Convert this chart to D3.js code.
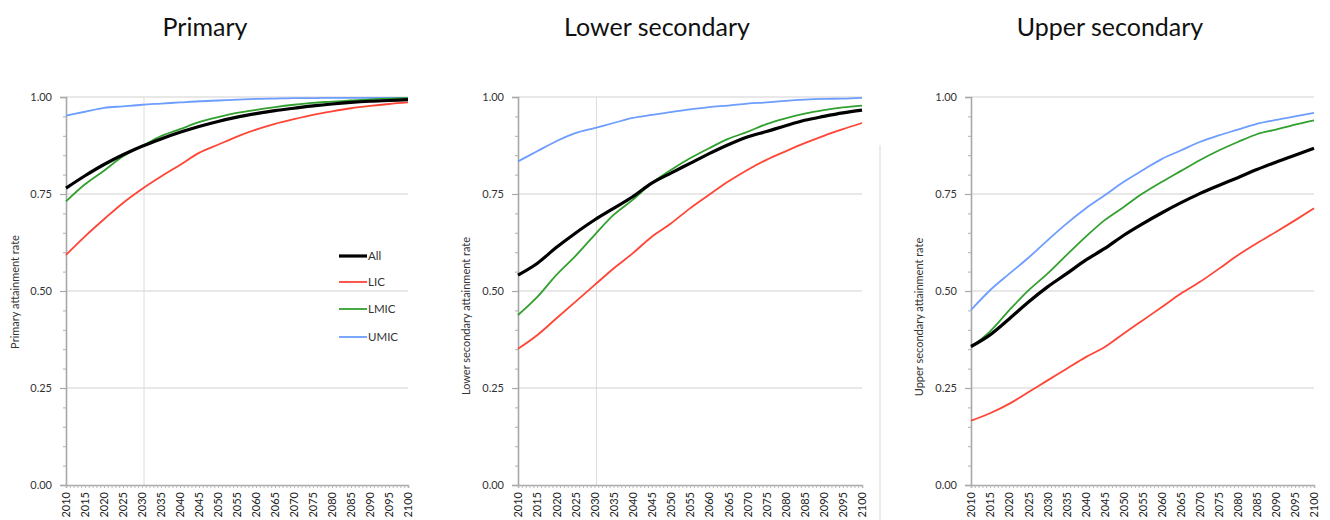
<!DOCTYPE html>
<html>
<head>
<meta charset="utf-8">
<script src="https://cdn.jsdelivr.net/npm/d3@7"></script>
<style>
  html, body { margin: 0; padding: 0; background: #fff; }
  svg { display: block; }
</style>
</head>
<body>
<svg id="chart" width="1330" height="520"></svg>
<script>
// ---------------- DATA ----------------
const years = [2010, 2015, 2020, 2025, 2030, 2035, 2040, 2045, 2050, 2055, 2060, 2065, 2070, 2075, 2080, 2085, 2090, 2095, 2100];
const seriesNames = ["All", "LIC", "LMIC", "UMIC"];
const panelTitles = ["Primary", "Lower secondary", "Upper secondary"];
const axisTitles = ["Primary attainment rate", "Lower secondary attainment rate", "Upper secondary attainment rate"];
const yTickValues = [0, 0.25, 0.5, 0.75, 1];
const xTickLabelYears = [2010, 2015, 2020, 2025, 2030, 2035, 2040, 2045, 2050, 2055, 2060, 2065, 2070, 2075, 2080, 2085, 2090, 2095, 2100];
const refYear = 2030;

// Primary
const primaryAll  = [0.765, 0.797, 0.826, 0.851, 0.873, 0.892, 0.909, 0.924, 0.937, 0.948, 0.957, 0.965, 0.971, 0.977, 0.982, 0.986, 0.989, 0.991, 0.993];
const primaryLIC  = [0.593, 0.641, 0.685, 0.727, 0.763, 0.795, 0.825, 0.856, 0.877, 0.898, 0.916, 0.931, 0.943, 0.954, 0.963, 0.971, 0.977, 0.982, 0.986];
const primaryLMIC = [0.731, 0.775, 0.810, 0.847, 0.873, 0.899, 0.917, 0.935, 0.948, 0.959, 0.967, 0.974, 0.980, 0.985, 0.988, 0.991, 0.994, 0.996, 0.997];
const primaryUMIC = [0.952, 0.962, 0.972, 0.976, 0.980, 0.983, 0.986, 0.989, 0.991, 0.993, 0.995, 0.996, 0.997, 0.997, 0.998, 0.998, 0.998, 0.998, 0.998];

// Lower secondary
const lowerAll  = [0.541, 0.571, 0.612, 0.649, 0.683, 0.713, 0.743, 0.778, 0.804, 0.829, 0.854, 0.877, 0.897, 0.911, 0.926, 0.940, 0.950, 0.959, 0.966];
const lowerLIC  = [0.351, 0.386, 0.429, 0.472, 0.515, 0.558, 0.597, 0.640, 0.674, 0.713, 0.748, 0.782, 0.812, 0.838, 0.860, 0.881, 0.900, 0.917, 0.933];
const lowerLMIC = [0.438, 0.484, 0.541, 0.590, 0.644, 0.696, 0.735, 0.778, 0.812, 0.842, 0.868, 0.892, 0.910, 0.930, 0.945, 0.957, 0.966, 0.973, 0.978];
const lowerUMIC = [0.834, 0.860, 0.886, 0.907, 0.920, 0.933, 0.946, 0.954, 0.961, 0.968, 0.974, 0.978, 0.983, 0.986, 0.990, 0.993, 0.995, 0.996, 0.998];

// Upper secondary
const upperAll  = [0.357, 0.387, 0.428, 0.471, 0.510, 0.544, 0.579, 0.609, 0.643, 0.673, 0.701, 0.727, 0.751, 0.772, 0.792, 0.813, 0.832, 0.850, 0.868];
const upperLIC  = [0.166, 0.185, 0.209, 0.239, 0.269, 0.299, 0.329, 0.355, 0.390, 0.424, 0.458, 0.493, 0.523, 0.557, 0.592, 0.623, 0.652, 0.682, 0.713];
const upperLMIC = [0.355, 0.396, 0.450, 0.501, 0.544, 0.592, 0.639, 0.682, 0.716, 0.751, 0.781, 0.809, 0.837, 0.862, 0.884, 0.904, 0.916, 0.929, 0.940];
const upperUMIC = [0.451, 0.502, 0.544, 0.585, 0.630, 0.673, 0.712, 0.746, 0.781, 0.811, 0.840, 0.862, 0.884, 0.901, 0.916, 0.931, 0.941, 0.950, 0.959];

const panelData = [
  [primaryAll, primaryLIC, primaryLMIC, primaryUMIC],
  [lowerAll, lowerLIC, lowerLMIC, lowerUMIC],
  [upperAll, upperLIC, upperLMIC, upperUMIC]
];

// ---------------- STYLE / LAYOUT ----------------
const colors = { "All": "#000000", "LIC": "#ff4536", "LMIC": "#32a02e", "UMIC": "#6c9dff" };
const widths = { "All": 3.2, "LIC": 1.8, "LMIC": 1.8, "UMIC": 1.8 };
const panels = [
  { x0: 66,  x1: 408,  titleX: 205,  axisTitleX: 15,  axisTitleY: 292, refLine: true },
  { x0: 518, x1: 862,  titleX: 657,  axisTitleX: 466, axisTitleY: 316, refLine: true },
  { x0: 971, x1: 1314, titleX: 1110, axisTitleX: 919, axisTitleY: 317, refLine: false }
];
const yTop = 97, yBottom = 485;
const FONT = "Lato, 'Open Sans', sans-serif";

const svg = d3.select("#chart");

panels.forEach((p, pi) => {
  const x = d3.scaleLinear().domain([2010, 2100]).range([p.x0, p.x1]);
  const y = d3.scaleLinear().domain([0, 1]).range([yBottom, yTop]);
  const g = svg.append("g");

  // title
  g.append("text")
    .attr("x", p.titleX).attr("y", 36)
    .attr("text-anchor", "middle")
    .style("font-family", FONT).style("font-size", "25px").style("fill", "#111")
    .text(panelTitles[pi]);

  // gridlines
  g.selectAll(".grid").data(yTickValues.filter(v => v > 0)).join("line")
    .attr("x1", p.x0).attr("x2", p.x1)
    .attr("y1", d => y(d)).attr("y2", d => y(d))
    .attr("stroke", "#e8e8e8").attr("stroke-width", 2);

  // reference line
  if (p.refLine) {
    g.append("line")
      .attr("x1", x(refYear) + 2).attr("x2", x(refYear) + 2)
      .attr("y1", y(1)).attr("y2", y(0))
      .attr("stroke", "#dcdcdc").attr("stroke-width", 1);
  }

  // minor y ticks
  const yMinorAxis = d3.axisLeft(y).tickValues(d3.range(0, 1.0001, 0.05)).tickSize(3).tickFormat("");
  const gyMinor = g.append("g").attr("transform", `translate(${p.x0},0)`).call(yMinorAxis);
  gyMinor.select(".domain").remove();
  gyMinor.selectAll("line").attr("stroke", "#b0b0b0");

  // y axis
  const yAxis = d3.axisLeft(y).tickValues(yTickValues).tickSize(6).tickPadding(8).tickFormat(d3.format(".2f"));
  const gy = g.append("g").attr("transform", `translate(${p.x0},0)`).call(yAxis);
  gy.select(".domain").attr("stroke", "#a8a8a8").attr("stroke-width", 1.6);
  gy.selectAll("line").attr("stroke", "#a8a8a8").attr("stroke-width", 1.2);
  gy.selectAll("text").style("font-family", FONT).style("font-size", "11px").style("fill", "#333");

  // x axis (yearly minor ticks)
  const xAxisMinor = d3.axisBottom(x).tickValues(d3.range(2010, 2101, 1)).tickSize(3).tickFormat("");
  const gxm = g.append("g").attr("transform", `translate(0,${yBottom})`).call(xAxisMinor);
  gxm.select(".domain").attr("stroke", "#a8a8a8").attr("stroke-width", 1.6);
  gxm.selectAll("line").attr("stroke", "#b8b8b8");

  const xAxis = d3.axisBottom(x).tickValues(xTickLabelYears).tickSize(0).tickFormat(d3.format("d"));
  const gx = g.append("g").attr("transform", `translate(0,${yBottom})`).call(xAxis);
  gx.select(".domain").remove();
  gx.selectAll("text")
    .attr("transform", "rotate(-90)")
    .attr("x", -7).attr("y", 0).attr("dy", "0.35em")
    .attr("text-anchor", "end")
    .style("font-family", FONT).style("font-size", "11px").style("fill", "#222");

  // axis title
  g.append("text")
    .attr("transform", `translate(${p.axisTitleX},${p.axisTitleY}) rotate(-90)`)
    .attr("text-anchor", "middle").attr("dy", "0.35em")
    .style("font-family", FONT).style("font-size", "11px").style("fill", "#333")
    .text(axisTitles[pi]);

  // series lines
  const line = d3.line().x((d, i) => x(years[i])).y(d => y(d)).curve(d3.curveMonotoneX);
  const order = [3, 1, 2, 0];
  order.forEach(si => {
    const name = seriesNames[si];
    g.append("path")
      .datum(panelData[pi][si])
      .attr("d", line)
      .attr("fill", "none")
      .attr("stroke", colors[name])
      .attr("stroke-width", widths[name])
      .attr("stroke-linejoin", "round");
  });
});

// stray divider line near panel 2
svg.append("line")
  .attr("x1", 880).attr("x2", 880).attr("y1", 145).attr("y2", 520)
  .attr("stroke", "#ececec").attr("stroke-width", 2);

// legend (panel 1)
const legendYs = [256, 282, 309, 337];
const lg = svg.append("g");
seriesNames.forEach((name, i) => {
  lg.append("line")
    .attr("x1", 339).attr("x2", 367)
    .attr("y1", legendYs[i]).attr("y2", legendYs[i])
    .attr("stroke", colors[name]).attr("stroke-width", widths[name]);
  lg.append("text")
    .attr("x", 368).attr("y", legendYs[i]).attr("dy", "0.35em")
    .style("font-family", FONT).style("font-size", "11.5px").style("fill", "#333")
    .text(name);
});
</script>
</body>
</html>
